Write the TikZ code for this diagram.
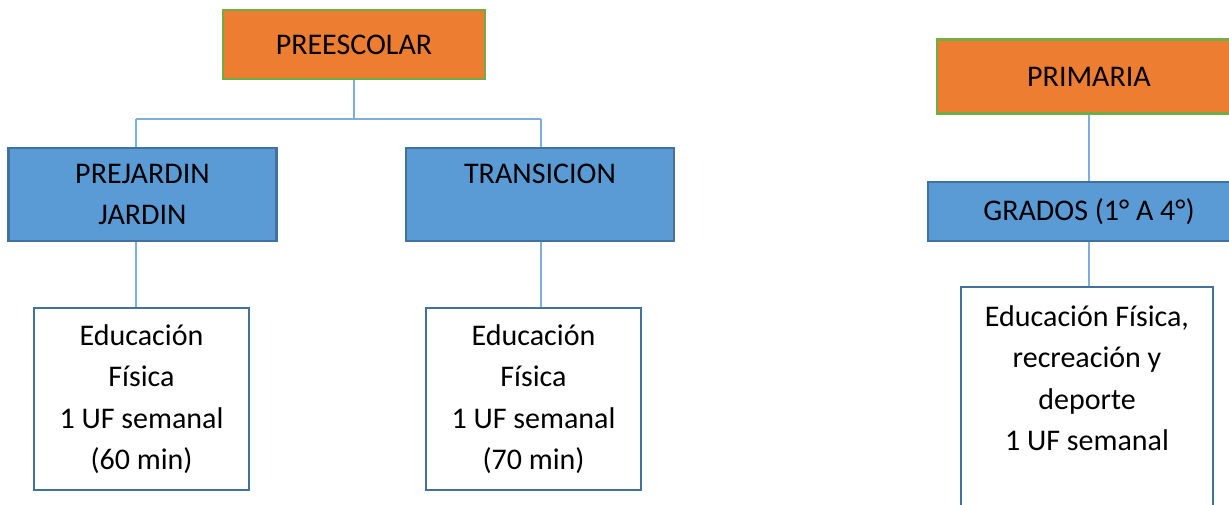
\documentclass[tikz,border=0pt]{standalone}
\usepackage{fontspec}
\setmainfont{Carlito}
\usetikzlibrary{positioning}

\definecolor{orangefill}{HTML}{ED7D31}
\definecolor{greenline}{HTML}{70AD47}
\definecolor{bluefill}{HTML}{5B9BD5}
\definecolor{blueline}{HTML}{41719C}
\definecolor{linkblue}{HTML}{7EAEDD}

\begin{document}
\begin{tikzpicture}[x=1pt,y=-1pt,
  level/.style={draw=greenline,fill=orangefill,line width=2.2pt,align=center,
    font=\fontsize{30}{41.5}\selectfont,inner sep=0pt},
  grade/.style={draw=blueline,fill=bluefill,line width=2.2pt,align=center,
    font=\fontsize{30}{41.5}\selectfont,inner sep=0pt},
  subject/.style={draw=blueline,fill=white,line width=2pt,align=center,
    font=\fontsize{30}{41.5}\selectfont,inner sep=0pt},
  link/.style={draw=linkblue,line width=1.3pt}]
\useasboundingbox (0,0) rectangle (1229,505);
% Preescolar
\node[level,minimum width=262,minimum height=69] (pree) at (354,44.5) {PREESCOLAR};
\node[grade,minimum width=268,minimum height=93] (prej) at (142.5,194.5) {PREJARDIN\\JARDIN};
\node[grade,minimum width=268,minimum height=93] (tran) at (540,194.5) {TRANSICION\\\mbox{}};
\node[subject,minimum width=215,minimum height=182] (efpj) at (141.5,399) {Educación\\Física\\1 UF semanal\\(60 min)};
\node[subject,minimum width=215,minimum height=182] (eftr) at (533.5,399) {Educación\\Física\\1 UF semanal\\(70 min)};
% Connectors
\coordinate (busl) at (136,119);
\coordinate (busr) at (541,119);
\draw[link] (pree.south) -- (pree.south |- busl);
\draw[link] (busl) -- (busr);
\draw[link] (busl) -- (busl |- prej.north);
\draw[link] (busr) -- (busr |- tran.north);
\draw[link] (busl |- prej.south) -- (busl |- efpj.north);
\draw[link] (busr |- tran.south) -- (busr |- eftr.north);
% Primaria
\node[level,minimum width=304,minimum height=74] (prim) at (1089,76.5) {PRIMARIA};
\node[grade,minimum width=322,minimum height=59] (grad) at (1089,211.5) {GRADOS (1° A 4°)};
\node[subject,minimum width=252,minimum height=265] (efpr) at (1087,419.5)
  {Educación Física,\\recreación y\\deporte\\1 UF semanal\\\mbox{}\\\mbox{}};
\draw[link] (prim.south) -- (grad.north);
\draw[link] (grad.south) -- (grad.south |- efpr.north);
\end{tikzpicture}
\end{document}
